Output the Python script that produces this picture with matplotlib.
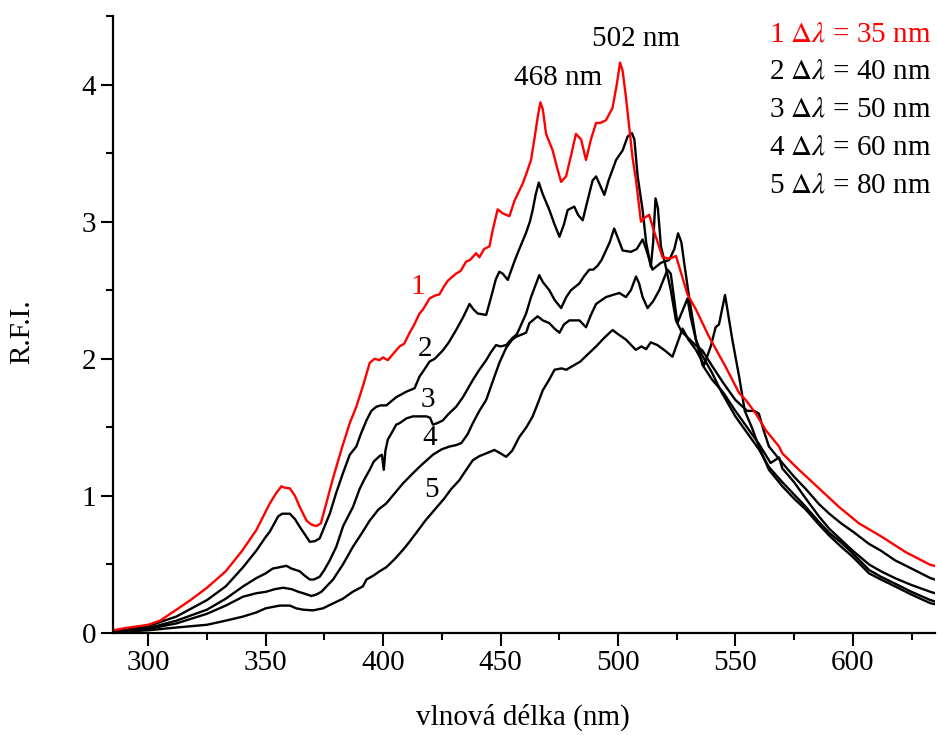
import numpy as np
import matplotlib
matplotlib.use("Agg")
import matplotlib.pyplot as plt
from matplotlib.ticker import MultipleLocator

plt.rcParams['font.family'] = ['Liberation Serif', 'DejaVu Serif']
plt.rcParams['mathtext.fontset'] = 'stix'

# curve 1, dl = 35 nm (red)
wl_1 = [285, 290, 300, 305, 312, 318, 325, 333, 340, 346, 351.8, 354.5, 356.7, 358, 360.3, 362.5,
        364.5, 367.4, 369.5, 371.6, 373.5, 375.1, 378.7, 382.2, 385.8, 388.6, 391.4, 394.3, 396.4,
        398.5, 400, 402, 404, 407, 409, 411.3, 413, 415.5, 417, 419.8, 422, 424, 426, 427.6, 431,
        433, 435.4, 437, 439.6, 441, 443, 445.3, 446.7, 448.8, 451, 453.8, 455.9, 459.5, 461, 463,
        464.4, 466, 467, 468, 469.4, 472.2, 474, 475.8, 477.9, 480, 482.1, 484.3, 486.4, 488.5,
        490.7, 492.5, 494.9, 497.7, 499.5, 500.9, 502, 503.4, 506.2, 507.7, 509.8, 511.5, 513.3,
        515, 519, 522, 524.7, 527, 529.6, 533.2, 538.8, 545.9, 551.6, 554.4, 558.7, 562.9, 568.6,
        570, 577.1, 585.6, 594.1, 602.6, 612.5, 622.5, 633.1, 635]
rfi_1 = [0.02, 0.035, 0.06, 0.09, 0.17, 0.24, 0.33, 0.45, 0.60, 0.75, 0.946, 1.02, 1.07, 1.06, 1.055,
         1.0, 0.92, 0.82, 0.79, 0.78, 0.80, 0.90, 1.13, 1.335, 1.53, 1.65, 1.80, 1.97, 2.00, 1.99,
         2.01, 1.99, 2.03, 2.09, 2.11, 2.19, 2.24, 2.33, 2.36, 2.44, 2.46, 2.47, 2.53, 2.57, 2.62,
         2.64, 2.71, 2.72, 2.77, 2.74, 2.80, 2.82, 2.94, 3.09, 3.06, 3.04, 3.15, 3.28, 3.35, 3.45,
         3.60, 3.78, 3.87, 3.82, 3.64, 3.52, 3.40, 3.29, 3.33, 3.48, 3.64, 3.60, 3.45, 3.60, 3.72,
         3.72, 3.74, 3.83, 4.0, 4.16, 4.10, 3.91, 3.47, 3.30, 3.00, 3.03, 3.05, 2.95, 2.74, 2.73,
         2.75, 2.62, 2.47, 2.36, 2.16, 1.94, 1.75, 1.70, 1.60, 1.48, 1.36, 1.31, 1.19, 1.055, 0.92,
         0.80, 0.70, 0.59, 0.496, 0.49]

# curve 2, dl = 40 nm
wl_2 = [285, 290, 300, 312, 325, 333, 340.4, 346, 350, 351.8, 355.3, 357, 360.3, 362.5, 364.5, 368.8,
        371, 373, 377.3, 380, 382.9, 385.8, 388.6, 390.5, 392.9, 395, 397.1, 399, 401.4, 403.5,
        405.6, 409.9, 413.4, 415.5, 417.5, 419.8, 422, 425.4, 428, 431.1, 434, 436.8, 438.5, 440.3,
        443.9, 446, 448, 449.5, 451, 453.1, 455.9, 458, 460.9, 462.5, 463.7, 465, 466.3, 468, 470.8,
        473, 475.1, 477, 478.6, 481.4, 483, 485, 487, 489.2, 490.7, 492, 494.2, 496, 499.2, 502,
        504.1, 506, 507, 508.4, 510.5, 512, 514, 515, 516, 517, 518.3, 520, 522.5, 524.7, 527, 530,
        533, 536, 540, 545, 550, 555, 558, 560, 562, 564.3, 570, 575, 580, 585.6, 590, 595, 600,
        606.9, 612, 618, 625, 633.1, 635]
rfi_2 = [0.015, 0.025, 0.05, 0.12, 0.24, 0.34, 0.48, 0.60, 0.70, 0.74, 0.85, 0.87, 0.87, 0.83, 0.775,
         0.665, 0.67, 0.69, 0.87, 1.02, 1.165, 1.30, 1.36, 1.45, 1.55, 1.62, 1.65, 1.66, 1.66, 1.69,
         1.72, 1.76, 1.785, 1.87, 1.92, 1.98, 2.0, 2.06, 2.12, 2.21, 2.30, 2.40, 2.36, 2.33, 2.32,
         2.45, 2.58, 2.635, 2.62, 2.575, 2.71, 2.80, 2.92, 3.0, 3.085, 3.2, 3.285, 3.2, 3.085, 2.98,
         2.89, 2.98, 3.085, 3.11, 3.05, 3.01, 3.15, 3.30, 3.33, 3.28, 3.195, 3.30, 3.45, 3.52, 3.62,
         3.645, 3.60, 3.33, 3.085, 2.85, 2.67, 2.85, 3.17, 3.10, 2.82, 2.70, 2.50, 2.28, 2.20, 2.15,
         2.10, 2.06, 1.95, 1.82, 1.70, 1.62, 1.62, 1.60, 1.48, 1.36, 1.24, 1.14, 1.05, 0.94, 0.87,
         0.80, 0.74, 0.65, 0.60, 0.53, 0.47, 0.40, 0.39]

# curve 3, dl = 50 nm
wl_3 = [285, 300, 312, 325, 333, 340.4, 346, 350, 353, 356, 358.8, 361, 364.5, 366.5, 368.8, 370.5,
        373, 375, 377.3, 380.1, 383, 387.2, 390, 392, 394.3, 396, 398.5, 399.5, 400.3, 401, 402,
        404, 405.6, 407, 409.9, 412.7, 415.5, 418.4, 420, 421.2, 423, 425.4, 428, 431.1, 434, 438.2,
        441, 443.9, 446, 448.1, 450, 452.4, 455, 457, 460.9, 463, 466.5, 468, 470.8, 473, 475.8,
        478, 480, 483.6, 485.5, 487.8, 489.5, 491.4, 493, 494.9, 496.5, 498.4, 500, 502, 505.5, 508,
        510.5, 512, 514.7, 518.3, 521.8, 524, 525.6, 527, 528.2, 530.3, 533.2, 536, 540, 545, 550,
        555, 560, 565, 568.6, 570, 575, 580, 585.6, 590, 595, 600, 606.9, 612, 618, 625, 633.1, 635]
rfi_3 = [0.01, 0.035, 0.09, 0.17, 0.25, 0.34, 0.40, 0.435, 0.47, 0.48, 0.49, 0.47, 0.45, 0.42, 0.39,
         0.39, 0.41, 0.46, 0.53, 0.63, 0.78, 0.92, 1.05, 1.12, 1.19, 1.25, 1.29, 1.30, 1.19, 1.33,
         1.41, 1.47, 1.52, 1.53, 1.565, 1.58, 1.58, 1.58, 1.57, 1.52, 1.53, 1.55, 1.60, 1.65, 1.72,
         1.845, 1.92, 1.99, 2.05, 2.10, 2.09, 2.10, 2.15, 2.18, 2.33, 2.45, 2.61, 2.56, 2.50, 2.43,
         2.37, 2.45, 2.50, 2.55, 2.60, 2.65, 2.65, 2.68, 2.72, 2.79, 2.85, 2.95, 2.88, 2.79, 2.78,
         2.80, 2.87, 2.80, 2.65, 2.70, 2.72, 2.80, 2.915, 2.85, 2.70, 2.45, 2.14, 1.955, 1.85, 1.75,
         1.62, 1.50, 1.38, 1.24, 1.28, 1.20, 1.10, 0.98, 0.85, 0.76, 0.68, 0.60, 0.50, 0.45, 0.40,
         0.35, 0.30, 0.29]

# curve 4, dl = 60 nm
wl_4 = [285, 300, 312, 325, 333, 340.4, 346, 350, 354, 357.4, 361, 364, 366, 369.5, 371.5, 373.7,
        378.7, 382.9, 387.2, 391.4, 394.3, 398, 401.4, 405, 408.4, 412.7, 416, 421.2, 425, 428.3,
        431, 433.3, 436, 438.2, 441, 443.9, 447, 449.5, 452.4, 455, 456.6, 460.9, 462.3, 465.8, 468,
        470.8, 473, 475.1, 477, 479.3, 483.6, 486.4, 488.5, 490.7, 494.9, 497.7, 500.6, 503.4, 505.5,
        507.7, 509, 510.5, 512.6, 515, 517.6, 521.1, 522.5, 525.3, 527.5, 529.6, 531, 533.2, 536,
        540, 544, 550, 555, 560, 564.3, 570, 575, 580, 585.6, 590, 595, 600, 606.9, 612, 618, 625,
        633.1, 635]
rfi_4 = [0.01, 0.03, 0.07, 0.14, 0.20, 0.265, 0.29, 0.30, 0.32, 0.33, 0.32, 0.30, 0.29, 0.27, 0.28,
         0.30, 0.39, 0.50, 0.63, 0.74, 0.82, 0.90, 0.946, 1.02, 1.09, 1.165, 1.22, 1.30, 1.34, 1.36,
         1.37, 1.385, 1.45, 1.53, 1.62, 1.70, 1.85, 1.97, 2.08, 2.14, 2.16, 2.19, 2.26, 2.31, 2.28,
         2.26, 2.22, 2.19, 2.25, 2.28, 2.28, 2.23, 2.32, 2.40, 2.45, 2.465, 2.48, 2.45, 2.50, 2.60,
         2.55, 2.45, 2.37, 2.42, 2.50, 2.65, 2.62, 2.26, 2.35, 2.44, 2.30, 2.14, 2.02, 1.90, 1.76,
         1.58, 1.46, 1.34, 1.21, 1.10, 1.01, 0.92, 0.81, 0.73, 0.66, 0.58, 0.46, 0.41, 0.36, 0.30,
         0.24, 0.23]

# curve 5, dl = 80 nm
wl_5 = [285, 300, 312, 325, 333, 340.4, 346, 350, 353, 356, 358, 360.3, 363, 366, 370.2, 374.4, 378,
        382.9, 387, 391.4, 392.9, 396, 398.5, 401.4, 405, 408.4, 411, 414.1, 418, 422, 426, 429,
        432.5, 435, 438.2, 441, 443.9, 447.4, 450, 452.4, 455, 458, 461, 463.7, 466, 468, 470.8,
        473, 476, 478, 481, 484, 487, 490.7, 494, 497.7, 500, 503.4, 507.6, 510, 512, 514, 516.8,
        520, 523.2, 525, 527.5, 530, 533.2, 536.7, 539.5, 541.6, 543, 545.6, 548.7, 551.6, 554, 557,
        560, 564.3, 570, 575, 580, 585.6, 590, 595, 600, 606.9, 612, 618, 625, 633.1, 635]
rfi_5 = [0.005, 0.02, 0.04, 0.06, 0.09, 0.12, 0.15, 0.18, 0.19, 0.20, 0.20, 0.20, 0.18, 0.17, 0.165,
         0.18, 0.21, 0.25, 0.30, 0.34, 0.39, 0.42, 0.45, 0.48, 0.54, 0.605, 0.66, 0.73, 0.82, 0.90,
         0.98, 1.05, 1.115, 1.18, 1.26, 1.29, 1.31, 1.335, 1.31, 1.285, 1.33, 1.43, 1.50, 1.58, 1.68,
         1.77, 1.85, 1.92, 1.93, 1.92, 1.95, 1.98, 2.03, 2.09, 2.15, 2.21, 2.18, 2.14, 2.065, 2.09,
         2.07, 2.12, 2.10, 2.06, 2.015, 2.10, 2.22, 2.14, 2.065, 1.955, 2.09, 2.23, 2.25, 2.465, 2.14,
         1.87, 1.62, 1.50, 1.36, 1.19, 1.07, 0.98, 0.90, 0.79, 0.71, 0.63, 0.555, 0.435, 0.39, 0.34,
         0.28, 0.217, 0.21]

curves = [(wl_1, rfi_1), (wl_2, rfi_2), (wl_3, rfi_3), (wl_4, rfi_4), (wl_5, rfi_5)]
colors = ['#ff0000', 'black', 'black', 'black', 'black']
curve_labels = ['1', '2', '3', '4', '5']
label_pos = [(414.7, 2.52), (417.7, 2.07), (418.9, 1.70), (419.8, 1.42), (420.6, 1.04)]
legend_texts = [r'1 $\Delta\lambda$ = 35 nm', r'2 $\Delta\lambda$ = 40 nm', r'3 $\Delta\lambda$ = 50 nm',
                r'4 $\Delta\lambda$ = 60 nm', r'5 $\Delta\lambda$ = 80 nm']
peak_texts = [('468 nm', 474.6, 4.05), ('502 nm', 507.8, 4.33)]

fs = 21

fig = plt.figure(figsize=(9.38, 7.35), dpi=100)
ax = fig.add_axes([113 / 938, 102 / 735, 822 / 938, 617 / 735])

# black ones first, red on top
for i in [1, 2, 3, 4, 0]:
    wl, rfi = curves[i]
    ax.plot(wl, rfi, color=colors[i], lw=1.7, solid_joinstyle='round')

ax.set_xlim(285, 635)
ax.set_ylim(0, 4.5)
ax.xaxis.set_major_locator(MultipleLocator(50))
ax.xaxis.set_minor_locator(MultipleLocator(25))
ax.yaxis.set_major_locator(MultipleLocator(1))
ax.yaxis.set_minor_locator(MultipleLocator(0.5))
ax.tick_params(which='major', direction='out', length=9, width=1.5, labelsize=fs, pad=3)
ax.tick_params(which='minor', direction='out', length=5, width=1.5)
for side in ['top', 'right']:
    ax.spines[side].set_visible(False)
for side in ['left', 'bottom']:
    ax.spines[side].set_linewidth(1.6)

for lab, (x, y), c in zip(curve_labels, label_pos, colors):
    ax.text(x, y, lab, color=c, fontsize=fs, ha='center', va='center')

for txt, x, y in peak_texts:
    ax.text(x, y, txt, fontsize=fs, ha='center', va='center')

leg_y = [0.970, 0.910, 0.848, 0.787, 0.725]
for txt, y, c in zip(legend_texts, leg_y, colors):
    ax.text(0.996, y, txt, color=c, fontsize=fs, ha='right', va='center', transform=ax.transAxes)

fig.text(22 / 938, 1 - 332 / 735, 'R.F.I.', rotation=90, fontsize=fs, ha='center', va='center')
fig.text(523 / 938, 1 - 717 / 735, 'vlnová délka (nm)', fontsize=fs, ha='center', va='center')

fig.savefig('out.png', dpi=100)
